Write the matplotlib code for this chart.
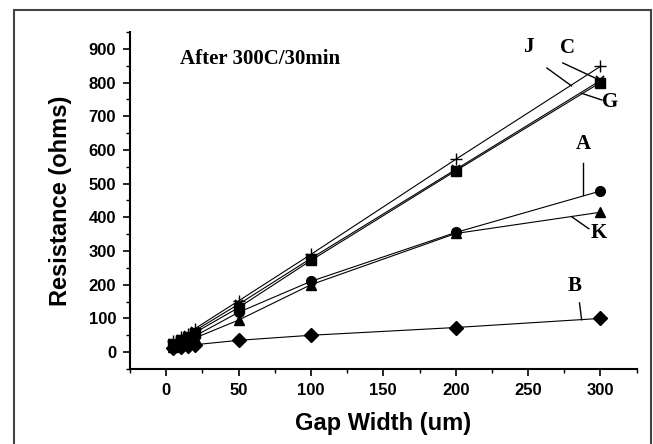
import matplotlib
matplotlib.use("Agg")
import matplotlib.pyplot as plt
from matplotlib.patches import Rectangle
from matplotlib.ticker import MultipleLocator

# gap width (um)
gap = [5, 10, 15, 20, 50, 100, 200, 300]

# resistance (ohms) per sample
res_J = [32, 45, 55, 70, 152, 290, 572, 848]
res_C = [28, 40, 50, 64, 142, 278, 542, 806]
res_G = [25, 36, 46, 58, 132, 272, 538, 800]
res_A = [18, 28, 36, 48, 118, 210, 355, 478]
res_K = [15, 24, 32, 42, 95, 200, 352, 415]
res_B = [12, 15, 19, 22, 35, 50, 73, 100]

labels = ["J", "C", "G", "A", "K", "B"]
# label text position, leader line start / end (data coords)
lab_pos = [(250, 906), (277, 903), (307, 742), (288, 617), (299, 352), (282, 197)]
lead_from = [(263, 843), (274, 858), (301, 748), (288, 560), (292, 366), (285.5, 146)]
lead_to = [(280, 790), (297, 812), (287, 768), (288, 465), (280, 402), (287, 96)]

fig = plt.figure(figsize=(6.53, 4.44), dpi=100)
ax = fig.add_axes([0.199, 0.169, 0.776, 0.759])

ax.plot(gap, res_J, color="black", lw=0.8, marker="+", ms=8, mew=1.0)
ax.plot(gap, res_C, color="black", lw=0.8, marker="x", ms=6, mew=1.3)
ax.plot(gap, res_G, color="black", lw=0.8, marker="s", ms=7)
ax.plot(gap, res_A, color="black", lw=0.8, marker="o", ms=7)
ax.plot(gap, res_K, color="black", lw=0.8, marker="^", ms=7)
ax.plot(gap, res_B, color="black", lw=0.8, marker="D", ms=7)

for lab, p, a, b in zip(labels, lab_pos, lead_from, lead_to):
    ax.plot([a[0], b[0]], [a[1], b[1]], color="black", lw=1.0)
    ax.text(p[0], p[1], lab, family="Liberation Serif", fontweight="bold",
            fontsize=15, ha="center", va="center")

ax.text(0.099, 0.905, "After 300C/30min", transform=ax.transAxes,
        family="Liberation Serif", fontweight="bold", fontsize=15)

ax.set_xlim(-25, 325)
ax.set_ylim(-50, 950)
ax.xaxis.set_major_locator(MultipleLocator(50))
ax.xaxis.set_minor_locator(MultipleLocator(25))
ax.yaxis.set_major_locator(MultipleLocator(100))
ax.yaxis.set_minor_locator(MultipleLocator(50))
ax.set_xticks([0, 50, 100, 150, 200, 250, 300])
ax.set_yticks(range(0, 1000, 100))

ax.spines["top"].set_visible(False)
ax.spines["right"].set_visible(False)
ax.spines["left"].set_linewidth(1.5)
ax.spines["bottom"].set_linewidth(1.5)
ax.tick_params(which="major", direction="out", length=5, width=1.2, pad=5)
ax.tick_params(which="minor", direction="out", length=3, width=1.0)
for t in ax.get_xticklabels() + ax.get_yticklabels():
    t.set_family("Liberation Sans")
    t.set_fontweight("bold")
    t.set_fontsize(12)

ax.set_xlabel("Gap Width (um)", family="Liberation Sans", fontweight="bold",
              fontsize=17, labelpad=10)
ax.set_ylabel("Resistance (ohms)", family="Liberation Sans", fontweight="bold",
              fontsize=17, labelpad=12)

# outer frame around the figure
fig.patches.append(Rectangle((14 / 653, -0.02), 637 / 653, 1 - 10 / 444 + 0.02,
                             transform=fig.transFigure, fill=False,
                             edgecolor="#444444", lw=1.5))

fig.savefig("out.png", dpi=100)
